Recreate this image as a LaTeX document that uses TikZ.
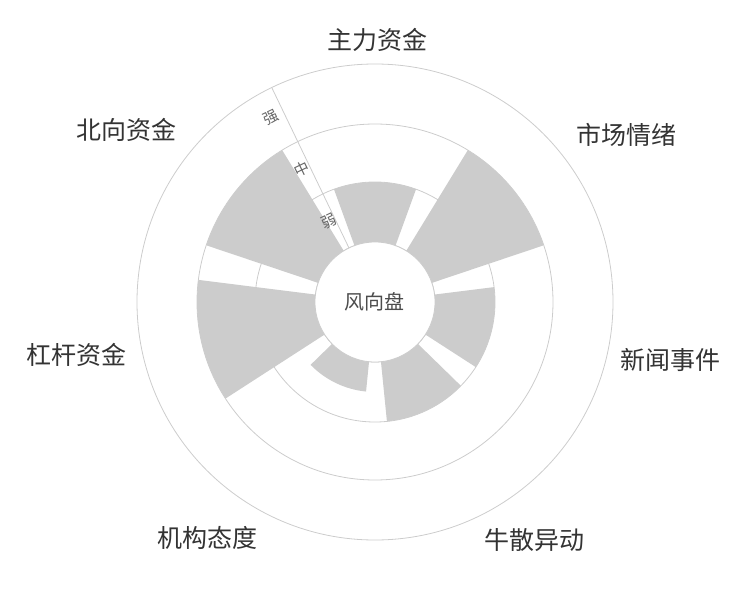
\documentclass[tikz,border=0pt]{standalone}
\usepackage{fontspec}
\newfontfamily\cjk{Noto Sans CJK SC}
\begin{document}
\begin{tikzpicture}[
    ring/.style={draw=black!20, line width=0.8pt},
    bar/.style={fill=black!20},
    cat/.style={font=\cjk\fontsize{25}{30}\selectfont, text=black!80},
    lvl/.style={font=\cjk\fontsize{15}{18}\selectfont, text=black!60, rotate=25.7}
]
    \useasboundingbox (-375pt,-298pt) rectangle (375pt,302pt);
    % Rings
    \foreach \r in {60,120,178,238}
        \draw[ring] (0,0) circle[radius=\r pt];
    % Bars
    \foreach \a/\r in {90/120, 38.57/178, -12.86/120, -64.29/120, -115.71/90, -167.14/178, 141.43/178}
        \fill[bar] (\a-20:60pt) arc[start angle=\a-20, end angle=\a+20, radius=60pt]
            -- (\a+20:\r pt) arc[start angle=\a+20, end angle=\a-20, radius=\r pt] -- cycle;
    % Radial axis
    \coordinate (ax0) at (115.71:60pt);
    \coordinate (ax1) at (115.71:238pt);
    \draw[ring] (ax0) -- (ax1);
    \node[lvl] (weak) at (120:93pt) {弱};
    \node[lvl] (mid) at (119:152pt) {中};
    \node[lvl] (strong) at (119.5:212pt) {强};
    % Center
    \node[circle, fill=white, draw=black!20, line width=0.8pt, minimum size=120pt,
          font=\cjk\fontsize{20}{24}\selectfont, text=black!70] (c) at (0,0) {风向盘};
    % Category labels
    \foreach \x/\y/\t/\n in {3/262/主力资金/main, 251/167/市场情绪/mood, 295/-58/新闻事件/news,
        160/-238/牛散异动/retail, -167/-236/机构态度/inst, -298/-53/杠杆资金/lever, -248/172/北向资金/north}
        \node[cat] (\n) at (\x pt,\y pt) {\t};
\end{tikzpicture}
\end{document}
